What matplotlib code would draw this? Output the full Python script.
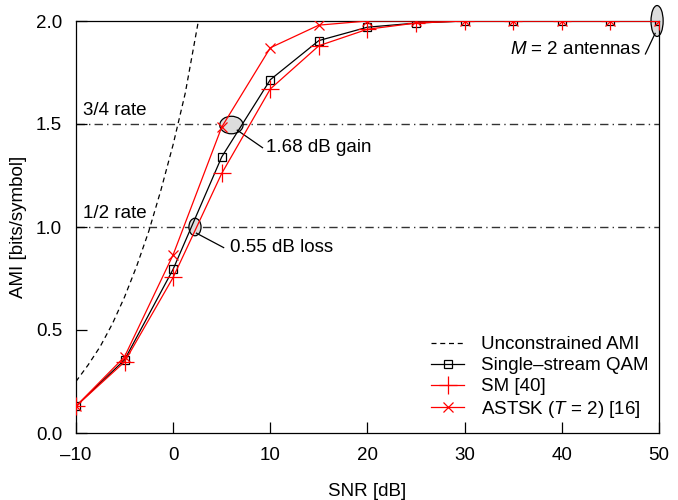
import numpy as np
import matplotlib
matplotlib.use('Agg')
import matplotlib.pyplot as plt
from matplotlib.patches import Ellipse

plt.rcParams['font.family'] = ['Liberation Sans', 'DejaVu Sans']
plt.rcParams['mathtext.fontset'] = 'custom'
plt.rcParams['mathtext.rm'] = 'Liberation Sans'
plt.rcParams['mathtext.it'] = 'Liberation Sans:italic'

# data
snr = [-10, -5, 0, 5, 10, 15, 20, 25, 30, 35, 40, 45, 50]
ami_qam = [0.13, 0.355, 0.795, 1.34, 1.715, 1.905, 1.97, 1.99, 2.0, 2.0, 2.0, 2.0, 2.0]
ami_sm = [0.13, 0.345, 0.755, 1.26, 1.67, 1.88, 1.96, 1.99, 2.0, 2.0, 2.0, 2.0, 2.0]
ami_astsk = [0.13, 0.37, 0.865, 1.485, 1.87, 1.98, 2.0, 2.0, 2.0, 2.0, 2.0, 2.0, 2.0]

snr_ub = [-10, -8.75, -7.5, -6.25, -5, -3.75, -2.5, -1.25, 0, 1.25, 2.6]
ami_ub = [0.25, 0.33, 0.42, 0.53, 0.66, 0.81, 0.98, 1.18, 1.40, 1.65, 2.0]

rate_lines = [1.5, 1.0]
rate_labels = ['3/4 rate', '1/2 rate']

FS = 13.5

fig = plt.figure(figsize=(6.78, 5.0), dpi=100)
ax = fig.add_axes([0.112, 0.134, 0.860, 0.824])

for yv, lab in zip(rate_lines, rate_labels):
    ax.axhline(yv, color='#333333', lw=1.0, ls=(0, (6, 3, 1, 3)), zorder=1)
    ax.text(-9.3, yv + 0.025, lab, fontsize=FS, ha='left', va='bottom')

ax.plot(snr_ub, ami_ub, color='black', lw=0.9, ls=(0, (4, 3)), label='Unconstrained AMI')
ax.plot(snr, ami_qam, color='black', lw=0.9, marker='s', ms=6, mfc='none', mew=0.9,
        label='Single\u2013stream QAM', zorder=3)
ax.plot(snr, ami_sm, color='red', lw=0.9, marker='+', ms=13, mew=0.9, label='SM [40]', zorder=4)
ax.plot(snr, ami_astsk, color='red', lw=0.9, marker='x', ms=7.5, mew=0.9,
        label='ASTSK ($T$ = 2) [16]', zorder=4)

# annotation ellipses
ax.add_patch(Ellipse((6.0, 1.495), 2.4, 0.085, fc='#dddddd', ec='black', lw=0.9, zorder=2))
ax.add_patch(Ellipse((2.25, 1.0), 1.25, 0.085, fc='#dddddd', ec='black', lw=0.9, zorder=2))
ax.add_patch(Ellipse((49.8, 2.0), 1.25, 0.15, fc='#dddddd', ec='black', lw=0.9,
                     zorder=2, clip_on=False))

ax.plot([6.6, 9.2], [1.47, 1.385], color='black', lw=0.9)
ax.text(9.6, 1.385, '1.68 dB gain', fontsize=FS, ha='left', va='center')
ax.plot([2.4, 5.2], [0.97, 0.90], color='black', lw=0.9)
ax.text(5.9, 0.90, '0.55 dB loss', fontsize=FS, ha='left', va='center')
ax.plot([49.6, 48.6], [1.94, 1.84], color='black', lw=0.9)
ax.text(48.2, 1.86, '$M$ = 2 antennas', fontsize=FS, ha='right', va='center')

ax.set_xlim(-10, 50)
ax.set_ylim(0, 2)
ax.set_xticks(range(-10, 51, 10))
ax.set_xticklabels(['\u201310'] + [str(v) for v in range(0, 51, 10)])
ax.set_yticks([0, 0.5, 1.0, 1.5, 2.0])
ax.set_yticklabels(['0.0', '0.5', '1.0', '1.5', '2.0'])
ax.tick_params(direction='in', length=8, width=0.9, labelsize=FS, pad=10)
for s in ax.spines.values():
    s.set_linewidth(0.9)
ax.set_xlabel('SNR [dB]', fontsize=FS, labelpad=14)
ax.set_ylabel('AMI [bits/symbol]', fontsize=FS, labelpad=6)

ax.legend(loc='lower right', bbox_to_anchor=(1.005, 0.0), frameon=False, fontsize=FS,
          handlelength=1.8, handletextpad=0.9, labelspacing=0.2, borderaxespad=0.3)

fig.savefig('out.png', dpi=100)
